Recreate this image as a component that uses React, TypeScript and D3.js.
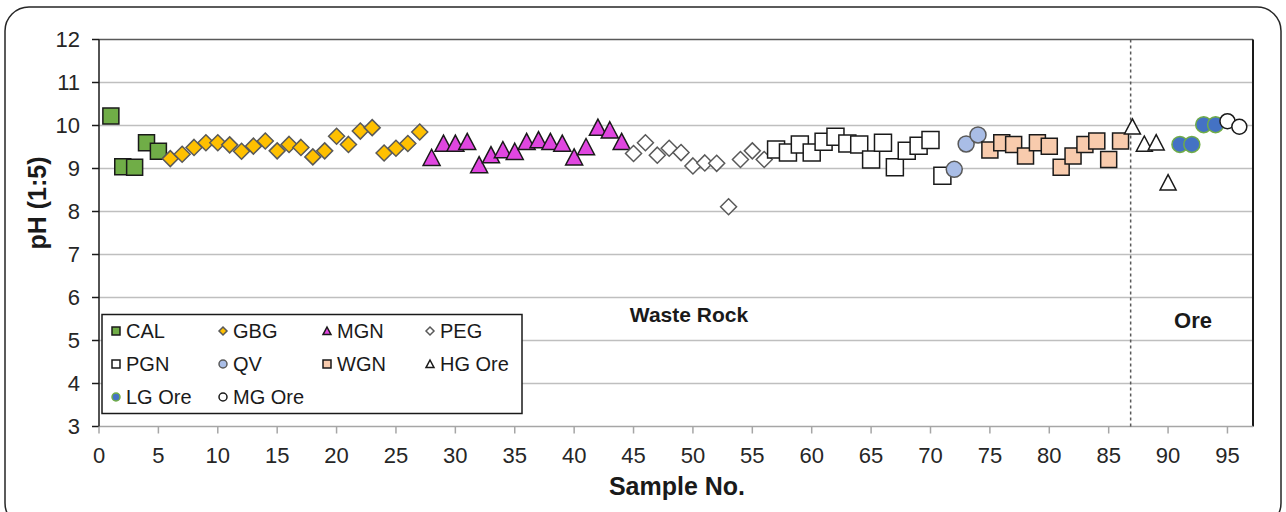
import React from 'react';
import * as d3 from 'd3';

// pH values per lithology, samples numbered consecutively from `start`
const calPH = [10.22, 9.04, 9.03, 9.6, 9.4];
const gbgPH = [9.23, 9.33, 9.49, 9.6, 9.6, 9.55, 9.4, 9.52, 9.64, 9.41, 9.56, 9.49, 9.27, 9.41, 9.75, 9.56, 9.87, 9.95, 9.36, 9.47, 9.58, 9.85];
const mgnPH = [9.25, 9.58, 9.58, 9.62, 9.08, 9.31, 9.43, 9.39, 9.62, 9.66, 9.62, 9.58, 9.26, 9.5, 9.95, 9.89, 9.62];
const pegPH = [9.35, 9.6, 9.31, 9.47, 9.37, 9.06, 9.13, 9.12, 8.11, 9.21, 9.41, 9.21];
const pgnPH = [9.44, 9.37, 9.56, 9.37, 9.62, 9.74, 9.58, 9.56, 9.21, 9.6, 9.03, 9.41, 9.53, 9.66, 8.83];
const qvPH = [8.98, 9.57, 9.78];
const wgnPH = [9.43, 9.6, 9.56, 9.29, 9.6, 9.52, 9.03, 9.29, 9.56, 9.64, 9.21, 9.64];
const hgPH = [9.97, 9.57, 9.6, 8.67];
const lgPH = [9.56, 9.56, 10.02, 10.02];
const mgPH = [10.1, 9.97];

const xTicks = [0, 5, 10, 15, 20, 25, 30, 35, 40, 45, 50, 55, 60, 65, 70, 75, 80, 85, 90, 95];
const yTicks = [3, 4, 5, 6, 7, 8, 9, 10, 11, 12];
const oreBoundary = 86.85;

type Shape = 'square' | 'diamond' | 'triangle' | 'circle';
const series = [
  { name: 'CAL', start: 1, values: calPH, shape: 'square' as Shape, size: 16, fill: '#70ad47', stroke: '#1a1a1a' },
  { name: 'GBG', start: 6, values: gbgPH, shape: 'diamond' as Shape, size: 16, fill: '#ffc000', stroke: '#595959' },
  { name: 'MGN', start: 28, values: mgnPH, shape: 'triangle' as Shape, size: 17, fill: '#e046e0', stroke: '#1a1a1a' },
  { name: 'PEG', start: 45, values: pegPH, shape: 'diamond' as Shape, size: 16, fill: '#ffffff', stroke: '#595959' },
  { name: 'PGN', start: 57, values: pgnPH, shape: 'square' as Shape, size: 17, fill: '#ffffff', stroke: '#1a1a1a' },
  { name: 'QV', start: 72, values: qvPH, shape: 'circle' as Shape, size: 16, fill: '#a9bde6', stroke: '#595959' },
  { name: 'WGN', start: 75, values: wgnPH, shape: 'square' as Shape, size: 16, fill: '#f8cbad', stroke: '#1a1a1a' },
  { name: 'HG Ore', start: 87, values: hgPH, shape: 'triangle' as Shape, size: 16, fill: '#ffffff', stroke: '#1a1a1a' },
  { name: 'LG Ore', start: 91, values: lgPH, shape: 'circle' as Shape, size: 16, fill: '#4472c4', stroke: '#70ad47' },
  { name: 'MG Ore', start: 95, values: mgPH, shape: 'circle' as Shape, size: 15, fill: '#ffffff', stroke: '#1a1a1a' },
];

const font = '"Liberation Sans", Arial, sans-serif';

function markerPath(shape: Shape, s: number): string {
  const h = s / 2;
  const p = d3.path();
  if (shape === 'square') {
    p.rect(-h, -h, s, s);
  } else if (shape === 'diamond') {
    p.moveTo(0, -h); p.lineTo(h, 0); p.lineTo(0, h); p.lineTo(-h, 0); p.closePath();
  } else if (shape === 'triangle') {
    p.moveTo(0, -h); p.lineTo(h, h * 0.9); p.lineTo(-h, h * 0.9); p.closePath();
  } else {
    p.arc(0, 0, h, 0, Math.PI * 2);
  }
  return p.toString();
}

export default function App() {
  const width = 1286;
  const height = 512;
  const m = { left: 99, right: 1253, top: 39.5, bottom: 426.5 };

  const x = d3.scaleLinear().domain([0, 97.15]).range([m.left, m.right]);
  const y = d3.scaleLinear().domain([3, 12]).range([m.bottom, m.top]);

  const legendCols = [116, 223, 327, 430];
  const legendRows = [331, 364, 397];

  return (
    <svg width={width} height={height} style={{ position: 'absolute', left: 0, top: 0 }} fontFamily={font}>
      <rect x={0} y={0} width={width} height={height} fill="#ffffff" />
      <rect x={5} y={7} width={1276} height={520} rx={24} ry={24} fill="none" stroke="#262626" strokeWidth={1.5} />

      {/* grid */}
      {yTicks.filter(t => t > 3).map(t => (
        <line key={'g' + t} x1={m.left} x2={m.right} y1={y(t)} y2={y(t)} stroke={t === 12 ? '#595959' : '#bfbfbf'} strokeWidth={1.5} />
      ))}
      <line x1={m.right} x2={m.right} y1={m.top} y2={m.bottom} stroke="#1a1a1a" strokeWidth={2} />
      <line x1={m.left} x2={m.right} y1={m.bottom} y2={m.bottom} stroke="#a6a6a6" strokeWidth={1.5} />
      <line x1={m.left} x2={m.left} y1={m.top} y2={m.bottom} stroke="#1a1a1a" strokeWidth={1.5} />

      {/* ticks */}
      {yTicks.map(t => (
        <g key={'y' + t}>
          <line x1={m.left - 7} x2={m.left} y1={y(t)} y2={y(t)} stroke="#1a1a1a" strokeWidth={1.5} />
          <text x={80} y={y(t)} dy="0.35em" textAnchor="end" fontSize={22} fill="#262626">{t}</text>
        </g>
      ))}
      {xTicks.map(t => (
        <g key={'x' + t}>
          <line x1={x(t)} x2={x(t)} y1={m.bottom} y2={m.bottom + 7} stroke="#a6a6a6" strokeWidth={1.5} />
          <text x={x(t)} y={463} textAnchor="middle" fontSize={22} fill="#262626">{t}</text>
        </g>
      ))}

      {/* ore boundary */}
      <line x1={x(oreBoundary)} x2={x(oreBoundary)} y1={m.top} y2={m.bottom} stroke="#595959" strokeWidth={1.5} strokeDasharray="3,3" />

      <text x={689} y={322} textAnchor="middle" fontSize={21} fontWeight="bold" fill="#1a1a1a">Waste Rock</text>
      <text x={1193} y={328} textAnchor="middle" fontSize={22} fontWeight="bold" fill="#1a1a1a">Ore</text>

      {/* markers */}
      {series.map(s => (
        <g key={s.name}>
          {s.values.map((v, i) => (
            <path key={i} d={markerPath(s.shape, s.size)} transform={`translate(${x(s.start + i)},${y(v)})`}
              fill={s.fill} stroke={s.stroke} strokeWidth={1.5} />
          ))}
        </g>
      ))}

      {/* legend */}
      <rect x={102} y={314.5} width={420} height={99} fill="#ffffff" stroke="#1a1a1a" strokeWidth={1.5} />
      {series.map((s, i) => {
        const cx = legendCols[i % 4];
        const cy = legendRows[Math.floor(i / 4)];
        return (
          <g key={'l' + s.name}>
            <path d={markerPath(s.shape, 8)} transform={`translate(${cx},${cy})`} fill={s.fill} stroke={s.stroke} strokeWidth={1.5} />
            <text x={cx + 10} y={cy} dy="0.35em" fontSize={20} fill="#1a1a1a">{s.name}</text>
          </g>
        );
      })}

      {/* axis titles */}
      <text transform="translate(46,203) rotate(-90)" textAnchor="middle" fontSize={25} fontWeight="bold" fill="#1a1a1a">pH (1:5)</text>
      <text x={677} y={495} textAnchor="middle" fontSize={25} fontWeight="bold" fill="#1a1a1a">Sample No.</text>
    </svg>
  );
}
